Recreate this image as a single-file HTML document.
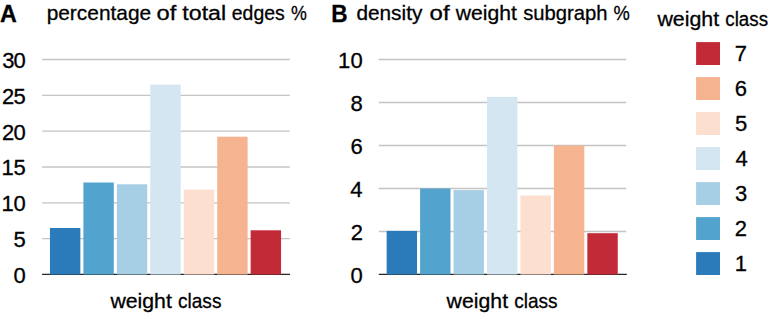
<!DOCTYPE html><html><head><meta charset="utf-8"><title>weight class charts</title><style>html,body{margin:0;padding:0;background:#fff;overflow:hidden}svg{display:block}text{font-family:"Liberation Sans",sans-serif;fill:#000;stroke:#000;stroke-width:0.3px}</style></head><body>
<svg width="769" height="314" viewBox="0 0 769 314">
<line x1="42.2" x2="289.8" y1="59.50" y2="59.50" stroke="#c4c4c4" stroke-width="1.3"/>
<line x1="42.2" x2="289.8" y1="95.33" y2="95.33" stroke="#c4c4c4" stroke-width="1.3"/>
<line x1="42.2" x2="289.8" y1="131.17" y2="131.17" stroke="#c4c4c4" stroke-width="1.3"/>
<line x1="42.2" x2="289.8" y1="167.00" y2="167.00" stroke="#c4c4c4" stroke-width="1.3"/>
<line x1="42.2" x2="289.8" y1="202.83" y2="202.83" stroke="#c4c4c4" stroke-width="1.3"/>
<line x1="42.2" x2="289.8" y1="238.67" y2="238.67" stroke="#c4c4c4" stroke-width="1.3"/>
<line x1="378.8" x2="626.3" y1="59.50" y2="59.50" stroke="#c4c4c4" stroke-width="1.3"/>
<line x1="378.8" x2="626.3" y1="102.50" y2="102.50" stroke="#c4c4c4" stroke-width="1.3"/>
<line x1="378.8" x2="626.3" y1="145.50" y2="145.50" stroke="#c4c4c4" stroke-width="1.3"/>
<line x1="378.8" x2="626.3" y1="188.50" y2="188.50" stroke="#c4c4c4" stroke-width="1.3"/>
<line x1="378.8" x2="626.3" y1="231.50" y2="231.50" stroke="#c4c4c4" stroke-width="1.3"/>
<line x1="42.1" x2="290.0" y1="274.4" y2="274.4" stroke="#262626" stroke-width="1.2"/>
<line x1="378.8" x2="626.8" y1="274.4" y2="274.4" stroke="#262626" stroke-width="1.2"/>
<rect x="49.95" y="228.00" width="30.4" height="46.50" fill="#2b7bba"/>
<rect x="83.40" y="182.50" width="30.4" height="92.00" fill="#53a3cf"/>
<rect x="116.85" y="184.30" width="30.4" height="90.20" fill="#a6cee4"/>
<rect x="150.30" y="84.60" width="30.4" height="189.90" fill="#d4e6f1"/>
<rect x="183.75" y="189.70" width="30.4" height="84.80" fill="#fcdfcf"/>
<rect x="217.20" y="136.70" width="30.4" height="137.80" fill="#f6b38f"/>
<rect x="250.65" y="230.30" width="30.4" height="44.20" fill="#c22a38"/>
<rect x="386.65" y="230.90" width="30.4" height="43.60" fill="#2b7bba"/>
<rect x="420.10" y="188.50" width="30.4" height="86.00" fill="#53a3cf"/>
<rect x="453.55" y="190.10" width="30.4" height="84.40" fill="#a6cee4"/>
<rect x="487.00" y="96.90" width="30.4" height="177.60" fill="#d4e6f1"/>
<rect x="520.45" y="195.50" width="30.4" height="79.00" fill="#fcdfcf"/>
<rect x="553.90" y="145.50" width="30.4" height="129.00" fill="#f6b38f"/>
<rect x="587.35" y="233.20" width="30.4" height="41.30" fill="#c22a38"/>
<text x="13.42" y="67.96" font-size="22.0">0</text>
<text x="2.37" y="67.96" font-size="22.0">3</text>
<text x="13.47" y="103.80" font-size="22.0">5</text>
<text x="2.10" y="103.80" font-size="22.0">2</text>
<text x="13.42" y="139.63" font-size="22.0">0</text>
<text x="2.10" y="139.63" font-size="22.0">2</text>
<text x="13.47" y="175.46" font-size="22.0">5</text>
<text x="1.40" y="175.46" font-size="22.0">1</text>
<text x="13.42" y="211.29" font-size="22.0">0</text>
<text x="1.40" y="211.29" font-size="22.0">1</text>
<text x="13.47" y="247.13" font-size="22.0">5</text>
<text x="13.42" y="282.96" font-size="22.0">0</text>
<text x="350.42" y="67.96" font-size="22.0">0</text>
<text x="338.00" y="67.96" font-size="22.0">1</text>
<text x="350.53" y="110.96" font-size="22.0">8</text>
<text x="350.53" y="153.96" font-size="22.0">6</text>
<text x="350.19" y="196.96" font-size="22.0">4</text>
<text x="350.69" y="239.96" font-size="22.0">2</text>
<text x="350.42" y="282.96" font-size="22.0">0</text>
<text transform="translate(0.12 21.60) scale(1.0036 1)" font-size="23.2" font-weight="bold">A</text>
<text transform="translate(331.37 21.60) scale(0.9751 1)" font-size="23.2" font-weight="bold">B</text>
<text transform="translate(46.64 19.70) scale(0.9952 1)" font-size="21.0">percentage</text>
<text transform="translate(156.59 19.70) scale(1.1296 1)" font-size="21.0">of</text>
<text transform="translate(182.35 19.70) scale(1.1039 1)" font-size="21.0">total</text>
<text transform="translate(231.77 19.70) scale(0.9263 1)" font-size="21.0">edges</text>
<text transform="translate(291.07 19.70) scale(0.8504 1)" font-size="21.0">%</text>
<text transform="translate(356.42 19.70) scale(0.9913 1)" font-size="21.0">density</text>
<text transform="translate(429.58 19.70) scale(1.1417 1)" font-size="21.0">of</text>
<text transform="translate(455.70 19.70) scale(1.0077 1)" font-size="21.0">weight</text>
<text transform="translate(523.14 19.70) scale(0.9635 1)" font-size="21.0">subgraph</text>
<text transform="translate(613.46 19.70) scale(0.8737 1)" font-size="21.0">%</text>
<text transform="translate(110.40 308.00) scale(1.0127 1)" font-size="21.0">weight</text>
<text transform="translate(177.99 308.00) scale(0.9091 1)" font-size="21.0">class</text>
<text transform="translate(446.60 308.00) scale(1.0127 1)" font-size="21.0">weight</text>
<text transform="translate(514.19 308.00) scale(0.9091 1)" font-size="21.0">class</text>
<text transform="translate(657.40 26.10) scale(1.0176 1)" font-size="21.0">weight</text>
<text transform="translate(725.30 26.10) scale(0.8939 1)" font-size="21.0">class</text>
<rect x="696.1" y="42.10" width="23.9" height="22.9" fill="#c22a38"/>
<text x="734.75" y="61.11" font-size="22.0">7</text>
<rect x="696.1" y="77.10" width="23.9" height="22.9" fill="#f6b38f"/>
<text x="734.80" y="96.11" font-size="22.0">6</text>
<rect x="696.1" y="112.10" width="23.9" height="22.9" fill="#fcdfcf"/>
<text x="735.02" y="131.11" font-size="22.0">5</text>
<rect x="696.1" y="147.10" width="23.9" height="22.9" fill="#d4e6f1"/>
<text x="735.40" y="166.11" font-size="22.0">4</text>
<rect x="696.1" y="182.10" width="23.9" height="22.9" fill="#a6cee4"/>
<text x="735.07" y="201.11" font-size="22.0">3</text>
<rect x="696.1" y="217.10" width="23.9" height="22.9" fill="#53a3cf"/>
<text x="734.80" y="236.11" font-size="22.0">2</text>
<rect x="696.1" y="252.10" width="23.9" height="22.9" fill="#2b7bba"/>
<text x="734.65" y="271.11" font-size="22.0">1</text>
</svg></body></html>
